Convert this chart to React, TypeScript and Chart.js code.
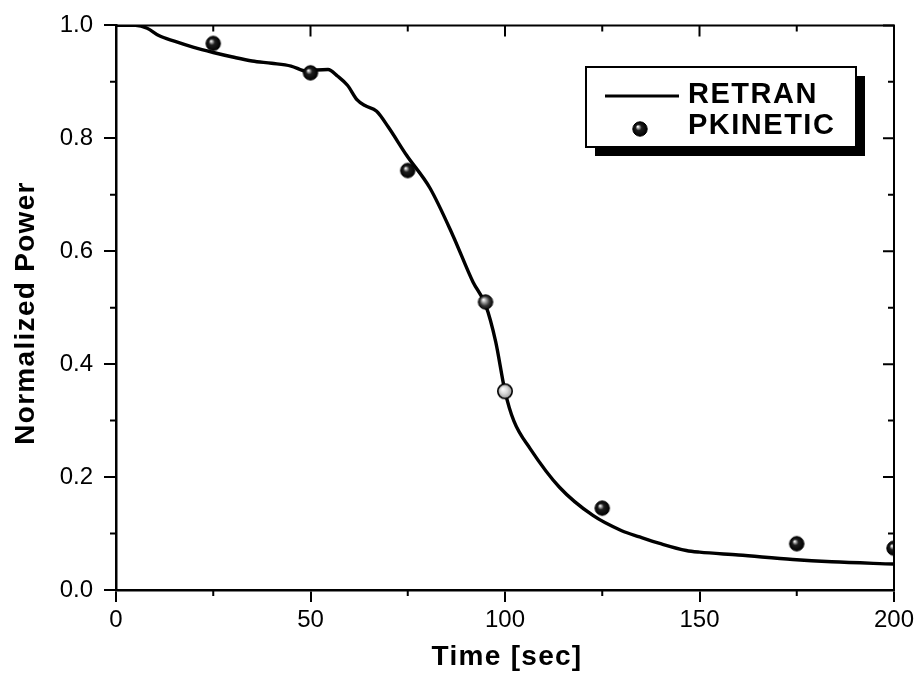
import React, { useEffect, useRef } from "react";
import { Chart, registerables } from "chart.js";

Chart.register(...registerables);

// ---- data ----
const retranTime = [0, 5, 8, 11, 15, 20, 25, 30, 35, 40, 45, 49, 51.5, 54.5, 57, 59.5, 62, 64, 67, 70, 74.7, 80.7, 86.6, 91.8, 95, 97.6, 100, 102.3, 106.5, 114, 122.6, 130, 134.6, 140, 146.6, 150, 160, 174, 184, 200];
const retranPower = [1.0, 1.0, 0.995, 0.982, 0.972, 0.961, 0.952, 0.944, 0.937, 0.933, 0.928, 0.919, 0.921, 0.922, 0.91, 0.894, 0.868, 0.858, 0.848, 0.82, 0.77, 0.712, 0.628, 0.545, 0.505, 0.44, 0.352, 0.299, 0.25, 0.182, 0.132, 0.105, 0.094, 0.082, 0.07, 0.067, 0.062, 0.054, 0.05, 0.046];

const pkTime = [25, 50, 75, 95, 100, 125, 175, 200];
const pkPower = [0.968, 0.916, 0.743, 0.51, 0.352, 0.145, 0.082, 0.074];
const pkShade = ["dark", "dark", "dark", "mid", "light", "dark", "dark", "dark"];

const xMinorTicks = [25, 75, 125, 175];
const yMinorTicks = [0.1, 0.3, 0.5, 0.7, 0.9];
const xMajorTicks = [0, 50, 100, 150, 200];
const yMajorTicks = [0, 0.2, 0.4, 0.6, 0.8, 1.0];

const legendLabels = ["RETRAN", "PKINETIC"];
const xTitle = "Time [sec]";
const yTitle = "Normalized Power";

const FONT = "Arial, 'Liberation Sans', Helvetica, sans-serif";

function makeBall(kind: string): HTMLCanvasElement {
  const c = document.createElement("canvas");
  c.width = 18;
  c.height = 18;
  const ctx = c.getContext("2d")!;
  const cx = 9, cy = 9, r = 7.2;
  const g = ctx.createRadialGradient(cx - 2.2, cy - 2.4, 0.3, cx, cy, r);
  if (kind === "dark") {
    g.addColorStop(0, "#ffffff");
    g.addColorStop(0.15, "#a8a8a8");
    g.addColorStop(0.4, "#1e1e1e");
    g.addColorStop(1, "#000000");
  } else if (kind === "mid") {
    g.addColorStop(0, "#ffffff");
    g.addColorStop(0.3, "#a0a0a0");
    g.addColorStop(0.65, "#353535");
    g.addColorStop(1, "#0a0a0a");
  } else {
    g.addColorStop(0, "#ffffff");
    g.addColorStop(0.5, "#d8d8d8");
    g.addColorStop(1, "#999999");
  }
  ctx.beginPath();
  ctx.arc(cx, cy, r, 0, Math.PI * 2);
  ctx.fillStyle = g;
  ctx.fill();
  ctx.lineWidth = kind === "light" ? 1.6 : 1;
  ctx.strokeStyle = "#000";
  ctx.stroke();
  return c;
}

export default function App() {
  const ref = useRef<HTMLCanvasElement | null>(null);

  useEffect(() => {
    if (!ref.current) return;
    const balls: Record<string, HTMLCanvasElement> = {
      dark: makeBall("dark"),
      mid: makeBall("mid"),
      light: makeBall("light"),
    };

    const framePlugin = {
      id: "frame",
      afterDatasetsDraw(chart: any) {
        const { ctx, chartArea } = chart;
        const xs = chart.scales.x;
        const ys = chart.scales.y;
        const { left, right, top, bottom } = chartArea;
        ctx.save();
        ctx.strokeStyle = "#000";
        ctx.lineWidth = 2;
        ctx.beginPath();
        ctx.moveTo(left, top);
        ctx.lineTo(right, top);
        ctx.lineTo(right, bottom);
        ctx.stroke();
        ctx.beginPath();
        xMajorTicks.forEach((v) => {
          const px = xs.getPixelForValue(v);
          ctx.moveTo(px, top);
          ctx.lineTo(px, top + 11);
        });
        yMajorTicks.forEach((v) => {
          const py = ys.getPixelForValue(v);
          ctx.moveTo(right, py);
          ctx.lineTo(right - 11, py);
        });
        xMinorTicks.forEach((v) => {
          const px = xs.getPixelForValue(v);
          ctx.moveTo(px, bottom);
          ctx.lineTo(px, bottom + 6);
          ctx.moveTo(px, top);
          ctx.lineTo(px, top + 6);
        });
        yMinorTicks.forEach((v) => {
          const py = ys.getPixelForValue(v);
          ctx.moveTo(left, py);
          ctx.lineTo(left - 6, py);
          ctx.moveTo(right, py);
          ctx.lineTo(right - 6, py);
        });
        ctx.stroke();
        ctx.restore();
      },
      afterDraw(chart: any) {
        const { ctx, chartArea } = chart;
        ctx.save();
        ctx.fillStyle = "#000";
        ctx.font = `bold 28px ${FONT}`;
        (ctx as any).letterSpacing = "1.3px";
        ctx.textAlign = "center";
        ctx.textBaseline = "alphabetic";
        ctx.fillText(xTitle, (chartArea.left + chartArea.right) / 2 + 2, 665);
        ctx.save();
        ctx.translate(34, 313);
        ctx.rotate(-Math.PI / 2);
        ctx.fillText(yTitle, 0, 0);
        ctx.restore();

        const bx = 586, by = 67, bw = 270, bh = 80;
        ctx.fillStyle = "#000";
        ctx.fillRect(bx + 9, by + 9, bw, bh);
        ctx.fillStyle = "#fff";
        ctx.fillRect(bx, by, bw, bh);
        ctx.strokeStyle = "#000";
        ctx.lineWidth = 2;
        ctx.strokeRect(bx, by, bw, bh);
        ctx.lineWidth = 3.2;
        ctx.beginPath();
        ctx.moveTo(605, 96);
        ctx.lineTo(679, 96);
        ctx.stroke();
        const b = balls.dark;
        ctx.drawImage(b, 640 - b.width / 2, 129 - b.height / 2);
        ctx.font = `bold 29px ${FONT}`;
        (ctx as any).letterSpacing = "1.5px";
        ctx.textAlign = "left";
        ctx.fillStyle = "#000";
        ctx.fillText(legendLabels[0], 688, 103);
        ctx.fillText(legendLabels[1], 688, 134);
        ctx.restore();
      },
    };

    const chart = new Chart(ref.current, {
      type: "line",
      data: {
        datasets: [
          {
            label: legendLabels[0],
            data: retranTime.map((t, i) => ({ x: t, y: retranPower[i] })),
            borderColor: "#000",
            borderWidth: 3.4,
            pointRadius: 0,
            fill: false,
            cubicInterpolationMode: "monotone",
            order: 2,
          },
          {
            label: legendLabels[1],
            data: pkTime.map((t, i) => ({ x: t, y: pkPower[i] })),
            showLine: false,
            pointStyle: pkShade.map((s) => balls[s]) as any,
            pointRadius: 8,
            order: 1,
          },
        ],
      },
      options: {
        animation: false,
        responsive: false,
        maintainAspectRatio: false,
        events: [],
        layout: { padding: { top: 22, right: 27, left: 0, bottom: 0 } },
        plugins: {
          legend: { display: false },
          tooltip: { enabled: false },
          title: { display: false },
        },
        scales: {
          x: {
            type: "linear",
            min: 0,
            max: 200,
            afterFit: (s: any) => {
              s.height = 89;
            },
            ticks: {
              stepSize: 50,
              maxRotation: 0,
              padding: 4,
              color: "#000",
              font: { family: FONT, size: 24 },
            },
            grid: {
              display: true,
              drawOnChartArea: false,
              drawTicks: true,
              tickLength: 12,
              tickWidth: 2,
              tickColor: "#000",
              color: "#000",
              lineWidth: 2,
            },
            border: { display: true, color: "#000", width: 2.5 },
          },
          y: {
            type: "linear",
            min: 0,
            max: 1,
            afterFit: (s: any) => {
              s.width = 116;
            },
            ticks: {
              stepSize: 0.2,
              padding: 11,
              color: "#000",
              font: { family: FONT, size: 24 },
              callback: (v: any) => Number(v).toFixed(1),
            },
            grid: {
              display: true,
              drawOnChartArea: false,
              drawTicks: true,
              tickLength: 12,
              tickWidth: 2,
              tickColor: "#000",
              color: "#000",
              lineWidth: 2,
            },
            border: { display: true, color: "#000", width: 2.5 },
          },
        },
      },
      plugins: [framePlugin],
    });

    return () => chart.destroy();
  }, []);

  return (
    <div style={{ position: "fixed", left: 0, top: 0, width: 921, height: 679, background: "#fff" }}>
      <canvas ref={ref} width={921} height={679} style={{ display: "block" }} />
    </div>
  );
}
